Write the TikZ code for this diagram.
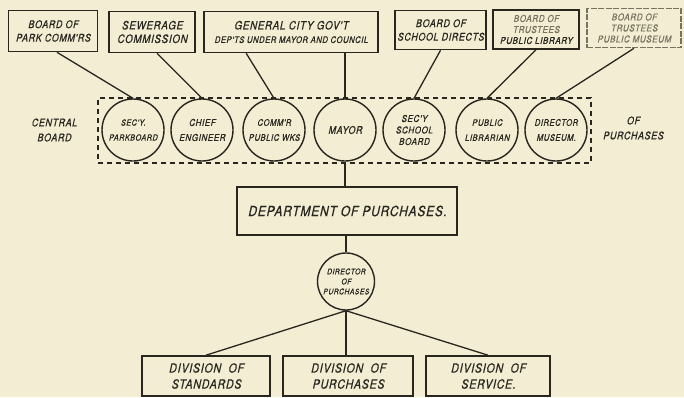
\documentclass[tikz,border=0pt]{standalone}
\usepackage{fontspec}
\newfontfamily\hand[FakeStretch=0.85,FakeSlant=0.22,FakeBold=0.6,LetterSpace=6]{TeX Gyre Heros}
\usetikzlibrary{calc}
\definecolor{paper}{RGB}{242,237,211}
\definecolor{ink}{RGB}{40,38,30}
\definecolor{faded}{RGB}{120,115,95}
\begin{document}
\begin{tikzpicture}[x=1pt,y=-1pt,
  box/.style={draw=ink,line width=1.6pt,inner sep=0pt,align=center,text=ink,
    font=\hand\fontsize{11.5}{13.5}\selectfont},
  circ/.style={draw=ink,circle,line width=1.4pt,minimum size=62pt,inner sep=0pt,align=center,text=ink,
    font=\hand\fontsize{9.5}{15}\selectfont},
  lab/.style={inner sep=0pt,align=center,text=ink,font=\hand\fontsize{10.5}{15}\selectfont},
  conn/.style={draw=ink,line width=1.3pt}]
\fill[paper] (0,0) rectangle (684,397);
\useasboundingbox (0,0) rectangle (684,397);
% top boxes
\node[box,minimum width=89pt,minimum height=41pt,font=\hand\fontsize{10.5}{13.5}\selectfont] (b1) at (53,31) {BOARD OF\\PARK COMM'RS};
\node[box,minimum width=86pt,minimum height=41pt] (b2) at (152,32) {SEWERAGE\\COMMISSION};
\node[box,minimum width=174pt,minimum height=41pt] (b3) at (291,32)
  {GENERAL CITY GOV'T\\{\fontsize{9}{13.5}\selectfont DEP'TS UNDER MAYOR AND COUNCIL}};
\node[box,minimum width=91pt,minimum height=39pt,font=\hand\fontsize{10.5}{13.5}\selectfont] (b4) at (440.5,30) {BOARD OF\\SCHOOL DIRECTS};
\node[box,minimum width=86pt,minimum height=39pt,text=faded,font=\hand\fontsize{9.5}{11}\selectfont] (b5) at (536,29.5)
  {BOARD OF\\TRUSTEES\\{\color{ink}PUBLIC LIBRARY}};
\node[box,draw=faded,dash pattern=on 6pt off 1.5pt,minimum width=94pt,minimum height=39pt,text=faded,font=\hand\fontsize{9.5}{11}\selectfont] (b6) at (634,28)
  {BOARD OF\\TRUSTEES\\PUBLIC MUSEUM};
% central board
\node[draw=ink,line width=1.5pt,dash pattern=on 5pt off 4pt,minimum width=493pt,minimum height=65pt,inner sep=0pt] (cb) at (344.5,130.5) {};
\node[circ,font=\hand\fontsize{8.5}{15}\selectfont] (c1) at (133,130) {SEC'Y.\\PARKBOARD};
\node[circ] (c2) at (202,130) {CHIEF\\ENGINEER};
\node[circ,font=\hand\fontsize{9}{15}\selectfont] (c3) at (274,130) {COMM'R\\PUBLIC WKS};
\node[circ,font=\hand\fontsize{10.5}{11}\selectfont] (c4) at (345,130) {MAYOR};
\node[circ,font=\hand\fontsize{9.5}{11.5}\selectfont] (c5) at (414,130) {SEC'Y\\SCHOOL\\BOARD};
\node[circ,font=\hand\fontsize{9}{15}\selectfont] (c6) at (487,130) {PUBLIC\\LIBRARIAN};
\node[circ,font=\hand\fontsize{9}{15}\selectfont] (c7) at (556,130) {DIRECTOR\\MUSEUM.};
\node[lab] (lc) at (54,130) {CENTRAL\\BOARD};
\node[lab] (lp) at (633,128) {OF\\PURCHASES};
% department
\node[box,minimum width=220pt,minimum height=48pt,font=\hand\fontsize{14}{15}\selectfont] (dept) at (347,211) {DEPARTMENT OF PURCHASES.};
\node[circ,minimum size=57pt,font=\hand\fontsize{8}{10}\selectfont] (dir) at (346,281.5) {DIRECTOR\\OF\\PURCHASES};
% divisions
\node[box,minimum width=128pt,minimum height=40pt,font=\hand\fontsize{12.5}{16}\selectfont] (d1) at (206,376) {DIVISION \ OF\\STANDARDS};
\node[box,minimum width=130pt,minimum height=40pt,font=\hand\fontsize{12.5}{16}\selectfont] (d2) at (348,376) {DIVISION \ OF\\PURCHASES};
\node[box,minimum width=124pt,minimum height=40pt,font=\hand\fontsize{12.5}{16}\selectfont] (d3) at (488,376) {DIVISION \ OF\\SERVICE.};
% connectors
\draw[conn] ($(b1.south)+(4,0)$) -- (c1.north);
\draw[conn] ($(b2.south)+(5,0)$) -- (c2.north);
\draw[conn] ($(b3.south west)+(43,0)$) -- (c3.north);
\draw[conn] (b3.south -| c4.north) -- (c4.north);
\draw[conn] (b4.south) -- (c5.north);
\draw[conn] (b5.south) -- (c6.north);
\draw[conn] (b6.south) -- (c7.north);
\draw[conn] (c4.south) -- (dept.north -| c4.south);
\draw[conn] (dept.south -| dir.north) -- (dir.north);
\draw[conn] (dir.south) -- (d1.north);
\draw[conn] (dir.south) -- (d2.north -| dir.south);
\draw[conn] (dir.south) -- (d3.north);
\end{tikzpicture}
\end{document}
